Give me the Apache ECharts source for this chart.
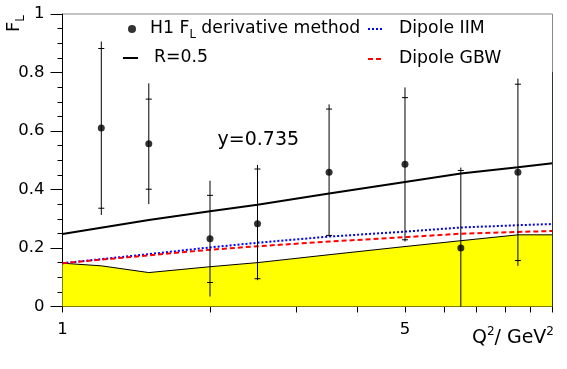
<!DOCTYPE html>
<html><head><meta charset="utf-8">
<script src="https://cdn.jsdelivr.net/npm/echarts@6/dist/echarts.min.js"></script>
<style>html,body{margin:0;padding:0;background:#fff}#c{width:567px;height:369px}</style>
</head><body><div id="c"></div>
<script>
// H1 FL derivative-method points
const q2 = [1.2, 1.5, 2.0, 2.5, 3.5, 5.0, 6.5, 8.5];
const fl = [0.610, 0.556, 0.232, 0.283, 0.459, 0.486, 0.200, 0.459];
const statLo = [0.336, 0.401, 0.082, 0.095, 0.243, 0.228, -0.05, 0.157];
const statHi = [0.882, 0.709, 0.380, 0.470, 0.675, 0.714, 0.465, 0.760];
const totLo = [0.313, 0.350, 0.034, 0.090, 0.240, 0.222, -0.08, 0.139];
const totHi = [0.906, 0.763, 0.430, 0.484, 0.691, 0.749, 0.475, 0.779];
// curves
const curveQ2 = [1, 1.5, 2, 2.5, 3.5, 5, 6.5, 8.5, 10];
const r05 = [0.248, 0.296, 0.326, 0.348, 0.386, 0.426, 0.455, 0.476, 0.490];
const dipIIM = [0.148, 0.179, 0.202, 0.218, 0.239, 0.256, 0.270, 0.278, 0.282];
const dipGBW = [0.148, 0.175, 0.194, 0.206, 0.222, 0.237, 0.249, 0.255, 0.258];
// yellow band upper edge
const bandQ2 = [1, 1.2, 1.5, 2, 2.5, 3.5, 5, 6.5, 8.5, 10];
const bandTop = [0.148, 0.139, 0.116, 0.136, 0.150, 0.177, 0.205, 0.225, 0.245, 0.245];
// axis ticks / labels
const xTicks = [1, 2, 3, 4, 5, 6, 7, 8, 9, 10];
const xLabels = [1, 5];
const fitText = 'y=0.735';

const FONT = 'DejaVu Sans, sans-serif';
const pair = (xs, ys) => xs.map((x, i) => [x, ys[i]]);

const chart = echarts.init(document.getElementById('c'), null, {renderer: 'canvas'});
const LFS = 17.3;
const legendText = {color: '#000', fontSize: LFS, fontFamily: FONT, lineHeight: 24};
chart.setOption({
  animation: false,
  backgroundColor: '#fff',
  grid: {left: 62.5, top: 14, right: 14.5, bottom: 62.5, show: true, borderColor: '#888', borderWidth: 1, containLabel: false, outerBoundsMode: 'none'},
  xAxis: {
    type: 'log', logBase: 10, min: 1, max: 10,
    axisLine: {show: true, lineStyle: {color: '#000', width: 1}},
    axisTick: {show: true, length: 6, customValues: xTicks, lineStyle: {color: '#000'}},
    minorTick: {show: false},
    axisLabel: {customValues: xLabels, color: '#000', fontSize: 16.5, fontFamily: FONT, margin: 15},
    splitLine: {show: false}
  },
  yAxis: {
    type: 'value', min: 0, max: 1, interval: 0.2,
    axisLine: {show: true, lineStyle: {color: '#000', width: 1}},
    axisTick: {show: true, length: 12, lineStyle: {color: '#000'}},
    minorTick: {show: true, splitNumber: 4, length: 5, lineStyle: {color: '#000'}},
    axisLabel: {color: '#000', fontSize: 16.5, fontFamily: FONT, margin: 18},
    splitLine: {show: false}, minorSplitLine: {show: false}
  },
  legend: [
    {data: [{name: 'H1', icon: 'circle'}], left: 128, top: 17, padding: 0, itemWidth: 14, itemHeight: 8,
      formatter: () => '{a|H1 F}{s|L}{a| derivative method}',
      textStyle: Object.assign({}, legendText, {padding: [0, 0, 0, 6], rich: {
        a: {fontSize: LFS, fontFamily: FONT, color: '#000', lineHeight: 24, verticalAlign: 'middle'},
        s: {fontSize: 11.5, fontFamily: FONT, color: '#000', lineHeight: 10, verticalAlign: 'bottom'}}})},
    {data: ['R=0.5'], left: 122, top: 46, padding: 0, itemWidth: 15, itemHeight: 10, itemStyle: {opacity: 0},
      textStyle: Object.assign({}, legendText, {padding: [0, 0, 0, 11]})},
    {data: ['Dipole IIM', 'Dipole GBW'], orient: 'vertical', left: 367, top: 17, padding: 0, itemGap: 6, itemWidth: 14, itemHeight: 10,
      itemStyle: {opacity: 0},
      textStyle: Object.assign({}, legendText, {padding: [0, 0, 0, 12]})}
  ],
  graphic: [
    {type: 'line', z: 40, shape: {x1: 552.5, y1: 72, x2: 552.5, y2: 306.5}, style: {stroke: '#333', lineWidth: 1}},
    {type: 'text', x: 217.5, y: 140, z: 50, style: {text: fitText, fontSize: 19, fontFamily: FONT, fill: '#000', verticalAlign: 'middle'}},
    {type: 'text', x: 14, y: 23.5, rotation: Math.PI / 2, z: 50, style: {text: '{f|F}{s|L}', align: 'center', verticalAlign: 'middle',
      rich: {f: {fontSize: 18, fontFamily: FONT, fill: '#000', lineHeight: 26, verticalAlign: 'middle'},
             s: {fontSize: 12, fontFamily: FONT, fill: '#000', lineHeight: 8, verticalAlign: 'bottom'}}}},
    {type: 'text', right: 13, top: 326, z: 50, style: {text: '{a|Q}{p|2}{a|/ GeV}{p|2}',
      rich: {a: {fontSize: 19, fontFamily: FONT, fill: '#000', lineHeight: 22, verticalAlign: 'bottom'},
             p: {fontSize: 12, fontFamily: FONT, fill: '#000', lineHeight: 22, verticalAlign: 'top'}}}}
  ],
  series: [
    {name: 'band', type: 'line', data: pair(bandQ2, bandTop), symbol: 'none', z: 1, silent: true,
      lineStyle: {color: '#000', width: 1}, areaStyle: {color: '#ffff00', opacity: 1}},
    {name: 'Dipole IIM', type: 'line', data: pair(curveQ2, dipIIM), symbol: 'none', z: 3, silent: true,
      color: '#0000ff', lineStyle: {color: '#0000ff', width: 2, type: [2, 2]}},
    {name: 'Dipole GBW', type: 'line', data: pair(curveQ2, dipGBW), symbol: 'none', z: 3, silent: true,
      color: '#ff0000', lineStyle: {color: '#ff0000', width: 2, type: [5, 3]}},
    {name: 'R=0.5', type: 'line', data: pair(curveQ2, r05), symbol: 'none', z: 3, silent: true,
      color: '#000', lineStyle: {color: '#000', width: 2}},
    {name: 'errors', type: 'custom', z: 4, silent: true, clip: true,
      data: q2.map((q, i) => [q, statLo[i], statHi[i], totLo[i], totHi[i]]),
      renderItem: (params, api) => {
        const x = api.value(0);
        const tTop = api.coord([x, api.value(4)]);
        const tBot = api.coord([x, api.value(3)]);
        const sTop = api.coord([x, api.value(2)]);
        const sBot = api.coord([x, api.value(1)]);
        const w = 3, st = {stroke: '#000', lineWidth: 1};
        return {type: 'group', children: [
          {type: 'line', shape: {x1: tTop[0], y1: tTop[1], x2: tBot[0], y2: tBot[1]}, style: st},
          {type: 'line', shape: {x1: sTop[0] - w, y1: sTop[1], x2: sTop[0] + w, y2: sTop[1]}, style: st},
          {type: 'line', shape: {x1: sBot[0] - w, y1: sBot[1], x2: sBot[0] + w, y2: sBot[1]}, style: st}
        ]};
      }},
    {name: 'H1', type: 'scatter', data: pair(q2, fl), symbol: 'circle', symbolSize: 7, z: 5,
      color: '#000', itemStyle: {color: '#000'}}
  ]
});
</script></body></html>
